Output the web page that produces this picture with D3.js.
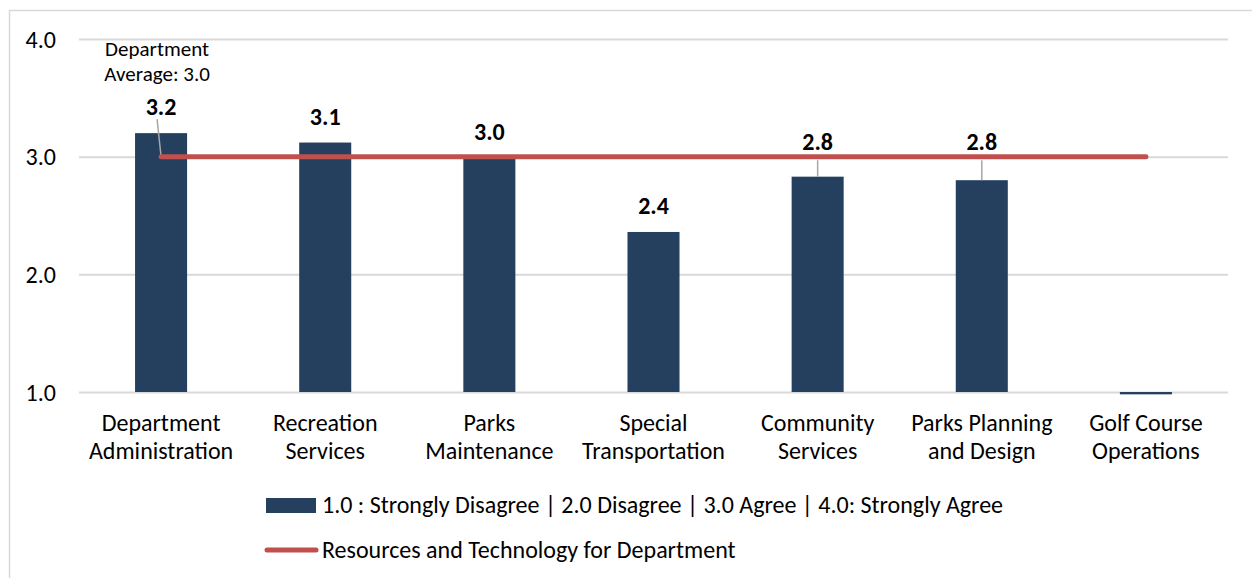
<!DOCTYPE html>
<html>
<head>
<meta charset="utf-8">
<script src="https://cdn.jsdelivr.net/npm/d3@7"></script>
<style>
  html, body { margin: 0; padding: 0; background: #fff; }
  svg { display: block; }
  text { font-family: Carlito, Calibri, Lato, "Open Sans", sans-serif; fill: #000; }
</style>
</head>
<body>
<svg id="chart" width="1252" height="578"></svg>
<script>
// Survey scores per division
const categories = [
  ["Department", "Administration"],
  ["Recreation", "Services"],
  ["Parks", "Maintenance"],
  ["Special", "Transportation"],
  ["Community", "Services"],
  ["Parks Planning", "and Design"],
  ["Golf Course", "Operations"]
];
const scores = [3.2, 3.12, 2.99, 2.36, 2.83, 2.80, 0.98];
const departmentAverage = [3.0, 3.0, 3.0, 3.0, 3.0, 3.0, 3.0];
const yTicks = [1.0, 2.0, 3.0, 4.0];
const legendLabels = [
  "1.0 : Strongly Disagree | 2.0 Disagree | 3.0 Agree | 4.0: Strongly Agree",
  "Resources and Technology for Department"
];
const averageNote = ["Department", "Average: 3.0"];

const barColor = "#253f5f";
const lineColor = "#c0504d";
const gridColor = "#d9d9d9";

const svg = d3.select("#chart");
const margin = { left: 79, right: 1228, top: 39, bottom: 392 };

const x = d3.scaleBand()
  .domain(d3.range(categories.length))
  .range([margin.left, margin.right])
  .paddingInner(0.683)
  .paddingOuter(0.3415);

const y = d3.scaleLinear().domain([1, 4]).range([margin.bottom, margin.top]);

// Outer frame
svg.append("path")
  .attr("d", "M9.5,590 V10.5 H1260")
  .attr("fill", "none")
  .attr("stroke", gridColor)
  .attr("stroke-width", 1.5);

// Gridlines
svg.append("g")
  .attr("transform", `translate(${margin.left},0)`)
  .call(d3.axisLeft(y).tickValues(yTicks).tickSize(-(margin.right - margin.left)).tickFormat(""))
  .call(g => g.select(".domain").remove())
  .call(g => g.selectAll("line").attr("stroke", gridColor).attr("stroke-width", 2));

// Y tick labels
svg.append("g")
  .attr("transform", "translate(56,0)")
  .call(d3.axisLeft(y).tickValues(yTicks).tickSize(0).tickPadding(0).tickFormat(d3.format(".1f")))
  .call(g => g.select(".domain").remove())
  .call(g => g.selectAll("text")
    .style("font-size", "24px")
    .attr("dy", "0.34em")
    .attr("fill", "#000"));

// Bars (drawn from the axis floor at 1.0)
const cx = i => x(i) + x.bandwidth() / 2;
svg.append("g").selectAll("rect")
  .data(scores)
  .join("rect")
  .attr("x", (d, i) => x(i))
  .attr("width", x.bandwidth())
  .attr("y", d => Math.min(y(d), y(1)))
  .attr("height", d => Math.abs(y(1) - y(d)))
  .attr("fill", barColor);

// Leader lines for labels lifted above the average line
const lifted = [4, 5];
svg.append("g").selectAll("line")
  .data(lifted)
  .join("line")
  .attr("x1", i => cx(i)).attr("x2", i => cx(i))
  .attr("y1", y(3) + 3.5)
  .attr("y2", i => y(scores[i]))
  .attr("stroke", "#a6a6a6")
  .attr("stroke-width", 1.5);

// Leader for the average note
svg.append("line")
  .attr("x1", cx(0) - 4).attr("y1", y(3.2) - 14)
  .attr("x2", cx(0)).attr("y2", y(departmentAverage[0]))
  .attr("stroke", "#a6a6a6")
  .attr("stroke-width", 1.5);

// Average line
const line = d3.line().x((d, i) => cx(i)).y(d => y(d));
svg.append("path")
  .datum(departmentAverage.slice(0, categories.length))
  .attr("d", line)
  .attr("fill", "none")
  .attr("stroke", lineColor)
  .attr("stroke-width", 5)
  .attr("stroke-linecap", "round");

// Value labels
svg.append("g").selectAll("text")
  .data(scores.slice(0, 6))
  .join("text")
  .attr("x", (d, i) => cx(i))
  .attr("y", (d, i) => lifted.includes(i) ? y(3) - 7 : y(d) - 18)
  .attr("text-anchor", "middle")
  .style("font-size", "24px")
  .style("font-weight", "bold")
  .text(d => d3.format(".1f")(d));

// Average note
svg.append("text")
  .attr("text-anchor", "middle")
  .style("font-size", "21px")
  .selectAll("tspan")
  .data(averageNote)
  .join("tspan")
  .attr("x", cx(0) - 4)
  .attr("y", (d, i) => 56 + i * 25)
  .text(d => d);

// Category labels
const catG = svg.append("g").selectAll("text")
  .data(categories)
  .join("text")
  .attr("text-anchor", "middle")
  .style("font-size", "24px");
catG.selectAll("tspan")
  .data((d, i) => d.map(t => ({ t, i })))
  .join("tspan")
  .attr("x", d => cx(d.i))
  .attr("y", (d, j) => 431 + j * 28)
  .text(d => d.t);

// Legend
const lg = svg.append("g");
lg.append("rect")
  .attr("x", 266).attr("y", 498).attr("width", 50).attr("height", 15)
  .attr("fill", barColor);
lg.append("text")
  .attr("x", 322).attr("y", 513)
  .style("font-size", "24px")
  .text(legendLabels[0]);
lg.append("line")
  .attr("x1", 267).attr("x2", 316).attr("y1", 550).attr("y2", 550)
  .attr("stroke", lineColor).attr("stroke-width", 5).attr("stroke-linecap", "round");
lg.append("text")
  .attr("x", 322).attr("y", 558)
  .style("font-size", "24px")
  .text(legendLabels[1]);
</script>
</body>
</html>
